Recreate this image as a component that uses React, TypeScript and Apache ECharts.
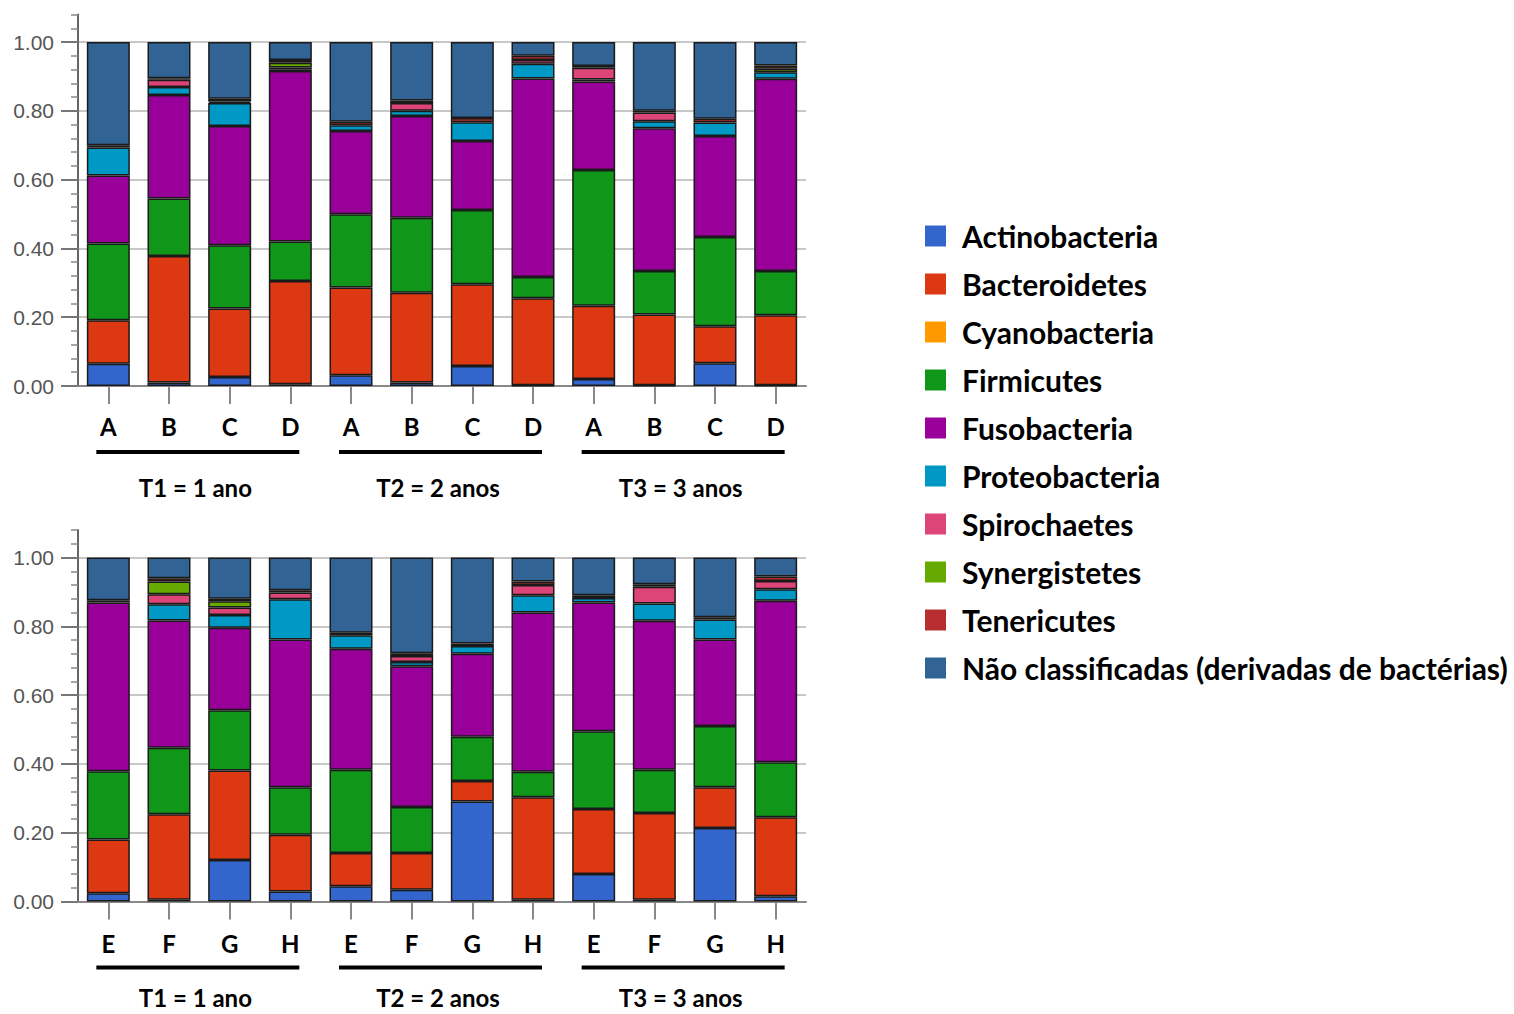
import React, { useEffect, useRef } from 'react';
import * as echarts from 'echarts';

const phyla = [
  'Actinobacteria',
  'Bacteroidetes',
  'Cyanobacteria',
  'Firmicutes',
  'Fusobacteria',
  'Proteobacteria',
  'Spirochaetes',
  'Synergistetes',
  'Tenericutes',
  'Não classificadas (derivadas de bactérias)',
];
const phylumColors = ['#3366CC', '#DC3912', '#FF9900', '#109618', '#990099', '#0099C6', '#DD4477', '#66AA00', '#B82E2E', '#316395'];

const topCategories = ['A', 'B', 'C', 'D', 'A', 'B', 'C', 'D', 'A', 'B', 'C', 'D'];
const bottomCategories = ['E', 'F', 'G', 'H', 'E', 'F', 'G', 'H', 'E', 'F', 'G', 'H'];
const groupLabels = ['T1 = 1 ano', 'T2 = 2 anos', 'T3 = 3 anos'];
const groupRanges = [[0, 3], [4, 7], [8, 11]];
const yTickValues = [0, 0.2, 0.4, 0.6, 0.8, 1.0];

// Top panel (A-D), T1 | T2 | T3
const topActinobacteria = [0.065, 0.010, 0.026, 0.005, 0.031, 0.010, 0.058, 0.002, 0.020, 0.002, 0.066, 0.002];
const topBacteroidetes = [0.126, 0.368, 0.199, 0.300, 0.255, 0.261, 0.238, 0.253, 0.213, 0.206, 0.108, 0.204];
const topCyanobacteria = [0, 0, 0, 0, 0, 0, 0, 0, 0, 0, 0, 0];
const topFirmicutes = [0.223, 0.167, 0.184, 0.115, 0.213, 0.218, 0.216, 0.062, 0.395, 0.126, 0.259, 0.128];
const topFusobacteria = [0.198, 0.301, 0.347, 0.496, 0.242, 0.296, 0.200, 0.577, 0.257, 0.415, 0.294, 0.559];
const topProteobacteria = [0.081, 0.023, 0.067, 0.005, 0.017, 0.015, 0.055, 0.043, 0.006, 0.021, 0.039, 0.019];
const topSpirochaetes = [0, 0.021, 0.004, 0.005, 0, 0.023, 0, 0.011, 0.034, 0.025, 0, 0];
const topSynergistetes = [0, 0, 0, 0.014, 0, 0, 0, 0, 0, 0, 0, 0.010];
const topTenericutes = [0.007, 0.005, 0.008, 0.008, 0.010, 0.007, 0.012, 0.012, 0.005, 0.005, 0.011, 0.010];
const topUnclassified = [0.300, 0.105, 0.165, 0.052, 0.232, 0.170, 0.221, 0.040, 0.070, 0.200, 0.223, 0.068];

// Bottom panel (E-H), T1 | T2 | T3
const bottomActinobacteria = [0.024, 0.005, 0.121, 0.029, 0.044, 0.034, 0.291, 0.005, 0.080, 0.005, 0.214, 0.015];
const bottomBacteroidetes = [0.156, 0.249, 0.260, 0.165, 0.097, 0.107, 0.059, 0.298, 0.189, 0.252, 0.118, 0.230];
const bottomCyanobacteria = [0, 0, 0, 0, 0, 0, 0, 0, 0, 0, 0, 0];
const bottomFirmicutes = [0.199, 0.193, 0.175, 0.138, 0.242, 0.134, 0.129, 0.074, 0.226, 0.126, 0.178, 0.160];
const bottomFusobacteria = [0.490, 0.370, 0.240, 0.430, 0.352, 0.409, 0.241, 0.463, 0.374, 0.433, 0.252, 0.469];
const bottomProteobacteria = [0, 0.047, 0.037, 0.117, 0.039, 0.012, 0.023, 0.050, 0.013, 0.050, 0.058, 0.034];
const bottomSpirochaetes = [0, 0.029, 0.022, 0.019, 0, 0.018, 0, 0.030, 0, 0.049, 0, 0.024];
const bottomSynergistetes = [0, 0.037, 0.018, 0, 0, 0, 0, 0, 0, 0, 0, 0];
const bottomTenericutes = [0.007, 0.010, 0.007, 0.007, 0.007, 0.008, 0.007, 0.010, 0.008, 0.007, 0.006, 0.013];
const bottomUnclassified = [0.124, 0.060, 0.120, 0.095, 0.219, 0.278, 0.250, 0.070, 0.110, 0.078, 0.174, 0.055];

const topSeriesValues = [
  topActinobacteria, topBacteroidetes, topCyanobacteria, topFirmicutes, topFusobacteria,
  topProteobacteria, topSpirochaetes, topSynergistetes, topTenericutes, topUnclassified,
];
const bottomSeriesValues = [
  bottomActinobacteria, bottomBacteroidetes, bottomCyanobacteria, bottomFirmicutes, bottomFusobacteria,
  bottomProteobacteria, bottomSpirochaetes, bottomSynergistetes, bottomTenericutes, bottomUnclassified,
];

const BOLD_FONT = 'Lato, "Open Sans", sans-serif';
const AXIS_FONT = '"Liberation Sans", Arial, sans-serif';

function makeYAxes(gridIndex: number) {
  return [
    {
      type: 'value', gridIndex, position: 'left', min: 0, max: 1.08, interval: 0.04,
      axisLine: { show: true, lineStyle: { color: '#666', width: 2 } },
      axisTick: { show: true, length: 7, lineStyle: { color: '#888', width: 1.5 } },
      axisLabel: {
        show: true, customValues: yTickValues, margin: 24,
        formatter: (v: number) => v.toFixed(2),
        fontFamily: AXIS_FONT, fontSize: 21, color: '#555',
      },
      splitLine: {
        show: true,
        lineStyle: { color: ['#c8c8c8', 'rgba(0,0,0,0)', 'rgba(0,0,0,0)', 'rgba(0,0,0,0)', 'rgba(0,0,0,0)'], width: 2 },
      },
    },
    {
      type: 'value', gridIndex, position: 'left', min: 0, max: 1.08, interval: 0.04,
      axisLine: { show: false },
      axisTick: { show: true, customValues: yTickValues, length: 17, lineStyle: { color: '#777', width: 2 } },
      axisLabel: { show: false },
      splitLine: { show: false },
    },
  ];
}

function makeXAxes(gridIndex: number, cats: string[], labelMargin: number, groupOffset: number) {
  return [
    {
      type: 'category', gridIndex, data: cats, position: 'bottom',
      axisLine: { show: true, lineStyle: { color: '#888', width: 2 } },
      axisTick: { show: true, alignWithLabel: true, length: 18, lineStyle: { color: '#888', width: 2 } },
      axisLabel: { margin: labelMargin, fontFamily: BOLD_FONT, fontWeight: 'bold', fontSize: 24, color: '#000' },
      splitLine: { show: false },
    },
    {
      type: 'category', gridIndex, data: groupLabels, position: 'bottom', offset: groupOffset,
      axisLine: { show: false },
      axisTick: { show: false },
      axisLabel: {
        margin: 6, fontFamily: BOLD_FONT, fontWeight: 'bold', fontSize: 24, lineHeight: 20, color: '#000',
        padding: [0, 8, 0, 0],
      },
      splitLine: { show: false },
    },
  ];
}

const nz = (v: number) => (v === 0 ? null : v);

export default function App() {
  const ref = useRef<HTMLDivElement>(null);

  useEffect(() => {
    if (!ref.current) return;
    const chart = echarts.init(ref.current, undefined, { renderer: 'svg' });

    const series: any[] = [];
    phyla.forEach((name, i) => {
      const itemStyle = { color: phylumColors[i], borderColor: '#1a1a1a', borderWidth: 1.5 };
      series.push({
        name, type: 'bar', stack: 'top', xAxisIndex: 0, yAxisIndex: 0, barWidth: 43,
        data: topSeriesValues[i].map(nz), itemStyle,
      });
      series.push({
        name, type: 'bar', stack: 'bottom', xAxisIndex: 2, yAxisIndex: 2, barWidth: 43,
        data: bottomSeriesValues[i].map(nz), itemStyle,
      });
    });

    chart.setOption({
      animation: false,
      backgroundColor: '#fff',
      grid: [
        { left: 78, width: 728, top: 14.5, height: 371.5 },
        { left: 78, width: 728, top: 530, height: 371.5 },
      ],
      xAxis: [...makeXAxes(0, topCategories, 28, 85), ...makeXAxes(1, bottomCategories, 30, 80)],
      yAxis: [...makeYAxes(0), ...makeYAxes(1)],
      legend: {
        data: phyla,
        orient: 'vertical',
        left: 920,
        top: 216,
        itemWidth: 21,
        itemHeight: 21,
        itemGap: 18,
        icon: 'rect',
        selectedMode: false,
        itemStyle: { borderWidth: 0 },
        textStyle: {
          fontFamily: BOLD_FONT, fontWeight: 'bold', fontSize: 30, color: '#000',
          lineHeight: 30, padding: [0, 0, 0, 11],
        },
      },
      series,
    });

    // group underlines, anchored to the category positions
    const lines: any[] = [];
    [[0, 386], [2, 901.5]].forEach(([xAxisIndex, baseY]) => {
      groupRanges.forEach(([a, b]) => {
        const x1 = chart.convertToPixel({ xAxisIndex }, a) as number;
        const x2 = chart.convertToPixel({ xAxisIndex }, b) as number;
        lines.push({
          type: 'line',
          shape: { x1: x1 - 12, y1: baseY + 66, x2: x2 + 9, y2: baseY + 66 },
          style: { stroke: '#000', lineWidth: 4 },
        });
      });
    });
    chart.setOption({ graphic: lines });

    return () => chart.dispose();
  }, []);

  return <div ref={ref} style={{ position: 'absolute', left: 0, top: 0, width: 1514, height: 1014 }} />;
}
